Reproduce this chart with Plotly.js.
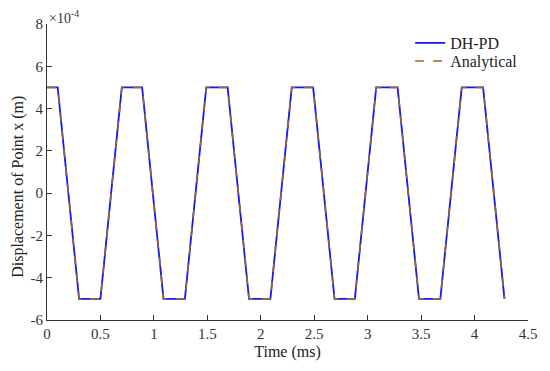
<!DOCTYPE html>
<html>
<head>
<meta charset="utf-8">
<script src="https://cdn.plot.ly/plotly-3.0.1.min.js"></script>
<style>html,body{margin:0;padding:0;background:#fff;}#chart{width:550px;height:371px;}</style>
</head>
<body>
<div id="chart"></div>
<script>
// Time (ms)
const timeMs = [0, 0.10, 0.30, 0.50, 0.70, 0.89, 1.09, 1.29, 1.49, 1.69, 1.89, 2.09, 2.29, 2.49, 2.69, 2.88, 3.08, 3.28, 3.48, 3.68, 3.88, 4.08, 4.28];
// Displacement in units of 1e-4 m
const dhpd = [5, 5, -5, -5, 5, 5, -5, -5, 5, 5, -5, -5, 5, 5, -5, -5, 5, 5, -5, -5, 5, 5, -5];
const analytical = [5, 5, -5, -5, 5, 5, -5, -5, 5, 5, -5, -5, 5, 5, -5, -5, 5, 5, -5, -5, 5, 5, -5];
const xTicks = [0, 0.5, 1, 1.5, 2, 2.5, 3, 3.5, 4, 4.5];
const xTickText = ["0", "0.5", "1", "1.5", "2", "2.5", "3", "3.5", "4", "4.5"];
const yTicks = [-6, -4, -2, 0, 2, 4, 6, 8];
const yTickText = ["-6", "-4", "-2", "0", "2", "4", "6", "8"];

const font = "'Liberation Serif', 'Times New Roman', serif";
const traces = [
  {x: timeMs, y: dhpd, name: "DH-PD", mode: "lines", legend: "legend", line: {color: "#1414ff", width: 1.8}},
  {x: timeMs, y: analytical, name: "Analytical", mode: "lines", legend: "legend2", line: {color: "#9a6a22", width: 1.5, dash: "dash"}}
];
const axisCommon = {
  showgrid: false, zeroline: false, showline: true, linecolor: "#333", linewidth: 1,
  ticks: "inside", ticklen: 5, tickcolor: "#333", mirror: false,
  tickfont: {family: font, size: 15, color: "#333"}
};
const legendCommon = {xanchor: "left", yanchor: "middle", bgcolor: "rgba(0,0,0,0)",
  font: {family: font, size: 16, color: "#222"}, borderwidth: 0};
const layout = {
  width: 550, height: 371,
  margin: {l: 47, r: 22, t: 24, b: 51},
  paper_bgcolor: "#fff", plot_bgcolor: "#fff",
  font: {family: font, color: "#222"},
  showlegend: true,
  legend: Object.assign({}, legendCommon, {x: 0.755, y: 0.936}),
  legend2: Object.assign({}, legendCommon, {x: 0.755, y: 0.875}),
  xaxis: Object.assign({}, axisCommon, {range: [0, 4.5], tickvals: xTicks, ticktext: xTickText,
    title: {text: "Time (ms)", font: {family: font, size: 16, color: "#222"}, standoff: 4}}),
  yaxis: Object.assign({}, axisCommon, {range: [-6, 8], tickvals: yTicks, ticktext: yTickText}),
  annotations: [
    {xref: "paper", yref: "paper", x: 0, y: 1, xanchor: "left", yanchor: "bottom",
     text: "×10<sup>-4</sup>", showarrow: false, font: {family: font, size: 14, color: "#333"}, xshift: 0, yshift: -4},
    {xref: "paper", yref: "paper", x: 0, y: 0.45, xanchor: "center", yanchor: "middle", xshift: -29,
     text: "Displacement of Point x (m)", textangle: -90, showarrow: false,
     font: {family: font, size: 16, color: "#222"}}
  ]
};
Plotly.newPlot("chart", traces, layout, {displayModeBar: false, staticPlot: true});
</script>
</body>
</html>
